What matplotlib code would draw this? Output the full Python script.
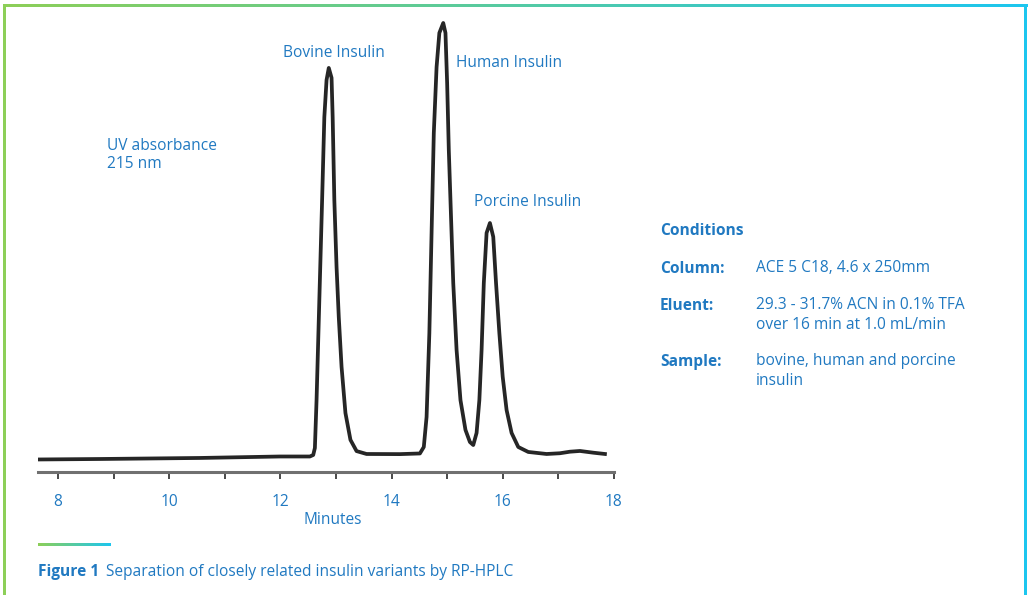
import numpy as np
import matplotlib
matplotlib.use('Agg')
import matplotlib.pyplot as plt
from matplotlib.colors import LinearSegmentedColormap

# Chromatogram trace (minutes, relative UV absorbance, human peak = 100)
trace_min = [7.64, 8.75, 10.55, 11.99, 12.53, 12.59, 12.62, 12.65, 12.70, 12.75,
             12.79, 12.83, 12.87, 12.92, 12.94, 12.97, 13.01, 13.05, 13.10, 13.17,
             13.26, 13.37, 13.55, 14.15, 14.51, 14.58, 14.63, 14.68, 14.72, 14.76,
             14.81, 14.86, 14.93, 14.97, 15.00, 15.03, 15.07, 15.11, 15.17, 15.24,
             15.33, 15.41, 15.47, 15.53, 15.58, 15.62, 15.66, 15.71, 15.77, 15.83,
             15.88, 15.94, 16.00, 16.07, 16.16, 16.28, 16.46, 16.79, 17.03, 17.21,
             17.39, 17.63, 17.84]
trace_abs = [-1.04, -0.93, -0.69, -0.35, -0.35, 0.0, 1.62, 12.7, 35.9, 59.0,
             78.2, 86.8, 89.6, 87.3, 78.2, 59.0, 43.5, 31.9, 20.4, 9.7,
             3.5, 0.9, 0.23, 0.2, 0.35, 1.85, 8.8, 28.2, 51.4, 74.5,
             89.8, 97.7, 100.0, 97.7, 86.1, 70.6, 55.1, 39.8, 24.3, 12.7,
             5.8, 3.0, 2.3, 5.1, 12.7, 24.3, 39.8, 51.4, 53.7, 50.5,
             39.8, 28.2, 18.1, 10.4, 5.1, 1.85, 0.7, 0.23, 0.4, 0.76,
             0.93, 0.53, 0.23]

tick_labels = ['8', '10', '12', '14', '16', '18']
tick_pos = [8, 10, 12, 14, 16, 18]

peak_names = ['Bovine Insulin', 'Human Insulin', 'Porcine Insulin']

cond_labels = ['Column:', 'Eluent:', 'Sample:']
cond_values = ['ACE 5 C18, 4.6 x 250mm',
               '29.3 - 31.7% ACN in 0.1% TFA\nover 16 min at 1.0 mL/min',
               'bovine, human and porcine\ninsulin']

blue = '#2079c1'
green = '#8dcf58'
cyan = '#1cc6ef'
plt.rcParams['font.family'] = ['Open Sans', 'DejaVu Sans']
fs = 11.2

W, H = 1031, 595
fig = plt.figure(figsize=(W / 100, H / 100), dpi=100)

# frame + decorations in pixel space
bg = fig.add_axes([0, 0, 1, 1])
bg.set_xlim(0, W)
bg.set_ylim(H, 0)
bg.axis('off')
grad = LinearSegmentedColormap.from_list('gc', [green, cyan])
ramp = np.linspace(0, 1, 256).reshape(1, -1)
bg.imshow(ramp, cmap=grad, extent=(2.5, 1027, 7, 4), aspect='auto')
bg.add_patch(plt.Rectangle((2.5, 4), 3, H, color=green, lw=0))
bg.add_patch(plt.Rectangle((1023.5, 4), 3, H, color=cyan, lw=0))
bg.imshow(ramp, cmap=grad, extent=(38, 111, 546, 543), aspect='auto')

# chromatogram
ax = fig.add_axes([38 / W, (H - 472) / H, 576 / W, 457 / H])
ax.plot(trace_min, trace_abs, color='#262626', lw=2.7, solid_joinstyle='round')
ax.set_xlim(7.637, 18.003)
ax.set_ylim(-3.94, 101.85)
for s in ['top', 'left', 'right']:
    ax.spines[s].set_visible(False)
ax.spines['bottom'].set_color('#707070')
ax.spines['bottom'].set_linewidth(2.2)
ax.set_yticks([])
ax.set_xticks(tick_pos)
ax.set_xticklabels(tick_labels)
ax.set_xticks(np.arange(9, 18, 2), minor=True)
ax.tick_params(axis='x', which='both', direction='out', length=5, width=1.3,
               color='#3a3a3a', labelsize=fs, labelcolor=blue, pad=11)
ax.patch.set_alpha(0)

# peak labels
ax.text(12.05, 93.1, peak_names[0], color=blue, fontsize=fs, va='center', ha='left')
ax.text(15.16, 90.7, peak_names[1], color=blue, fontsize=fs, va='center', ha='left')
ax.text(15.48, 58.6, peak_names[2], color=blue, fontsize=fs, va='center', ha='left')

def fx(px):
    return px / W

def fy(py):
    return 1 - py / H

fig.text(fx(107), fy(155), 'UV absorbance\n215 nm', color=blue, fontsize=fs,
         va='center', ha='left', linespacing=1.15)
fig.text(fx(333), fy(520), 'Minutes', color=blue, fontsize=fs, va='center', ha='center')

# conditions panel
fig.text(fx(660), fy(231), 'Conditions', color=blue, fontsize=fs,
         fontweight='bold', va='center')
cond_y = [269, 306, 362]
for lab, val, y in zip(cond_labels, cond_values, cond_y):
    fig.text(fx(660), fy(y), lab, color=blue, fontsize=fs, fontweight='bold', va='center')
    fig.text(fx(756), fy(y - 9), val, color=blue, fontsize=fs, va='top',
             linespacing=1.3)

# caption
cap = fig.text(fx(38), fy(572), 'Figure 1', color=blue, fontsize=fs,
               fontweight='bold', va='center')
fig.canvas.draw()
bb = cap.get_window_extent()
fig.text((bb.x1 + 7) / W, fy(572), 'Separation of closely related insulin variants by RP-HPLC',
         color=blue, fontsize=fs, va='center')

fig.savefig('out.png', dpi=100)
